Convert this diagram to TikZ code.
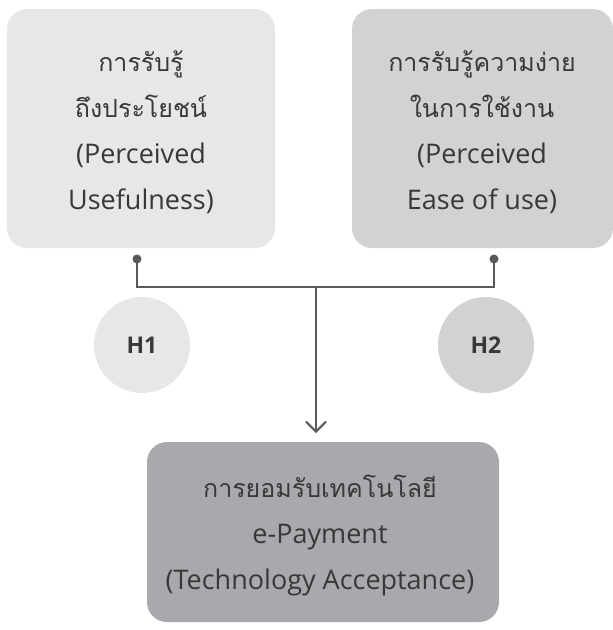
\documentclass[tikz,border=0pt]{standalone}
\usepackage{fontspec}
\setmainfont[Script=Thai]{Loma}
\newfontfamily\latinfont{Open Sans}
\usetikzlibrary{arrows.meta}
\definecolor{boxA}{HTML}{E6E7E8}
\definecolor{boxB}{HTML}{D1D2D4}
\definecolor{boxC}{HTML}{A7A9AC}
\definecolor{linecol}{HTML}{58595B}
\definecolor{txt}{HTML}{383838}
\newcommand{\lat}[1]{{\latinfont\fontsize{27pt}{46pt}\selectfont #1}}
\tikzset{
  boxtext/.style={align=center, text=txt, font=\fontsize{25pt}{46pt}\selectfont},
  hcircle/.style={circle, minimum size=96pt, inner sep=0pt, text=txt, font=\latinfont\fontsize{23pt}{26pt}\selectfont\bfseries},
  conn/.style={draw=linecol, line width=2pt},
  dotstyle/.style={circle, fill=linecol, minimum size=9pt, inner sep=0pt}
}
\begin{document}
\begin{tikzpicture}[x=1pt,y=-1pt]
\useasboundingbox (0,0) rectangle (613,630);
% boxes
\fill[boxA, rounded corners=20pt] (7,9) rectangle (275,248);
\fill[boxB, rounded corners=20pt] (352,9) rectangle (613,248);
\fill[boxC, rounded corners=20pt] (147,442) rectangle (499,622);
\node[boxtext] (t1) at (141,132) {การรับรู้\\ถึงประโยชน์\\\lat{(Perceived}\\\lat{Usefulness)}};
\node[boxtext] (t2) at (482,132) {การรับรู้ความง่าย\\ในการใช้งาน\\\lat{(Perceived}\\\lat{Ease of use)}};
\node[boxtext] (t3) at (320,535) {การยอมรับเทคโนโลยี\\\lat{e-Payment}\\\lat{(Technology Acceptance)}};
% circles
\node[hcircle, fill=boxA] (h1) at (142,345) {H1};
\node[hcircle, fill=boxB] (h2) at (486,345) {H2};
% connectors
\node[dotstyle] (d1) at (137,259) {};
\node[dotstyle] (d2) at (494,259) {};
\coordinate (j) at (316,287);
\coordinate (tip) at (316,433);
\draw[conn] (d1.center) |- (j) -| (d2.center);
\draw[conn, -{Straight Barb[length=10pt,width=20pt,line width=2pt]}] (j) -- (tip);
\end{tikzpicture}
\end{document}
